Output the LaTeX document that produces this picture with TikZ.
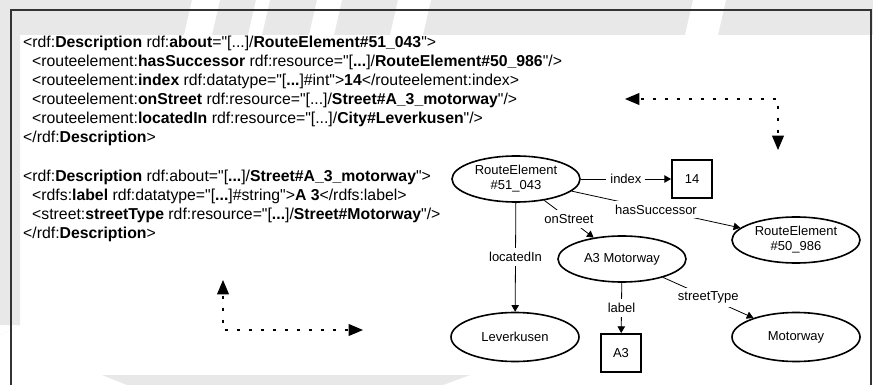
\documentclass[tikz,border=0pt]{standalone}
\usepackage{fontspec}
\setmainfont{Liberation Sans}
\usetikzlibrary{arrows,shapes.geometric}
\newcommand{\q}{\textquotedbl}

\begin{document}
\begin{tikzpicture}[x=1pt,y=-1pt,
        code/.style={anchor=base west,inner sep=0pt,font=\fontsize{15.8}{19}\selectfont},
        res/.style={draw=black,ellipse,line width=1.6pt,minimum width=128pt,minimum height=46pt,inner sep=0pt,align=center,font=\fontsize{13}{15}\selectfont},
        lit/.style={draw=black,rectangle,line width=2pt,minimum width=40pt,minimum height=38pt,inner sep=0pt,font=\fontsize{13}{15}\selectfont},
        prop/.style={line width=0.8pt,-triangle 60},
        lbl/.style={fill=white,inner sep=4pt,font=\fontsize{13}{15}\selectfont},
        hint/.style={line width=2.4pt,dash pattern=on 3pt off 9pt,triangle 45-triangle 45},
        frame/.style={draw=black!80,line width=1.4pt},
        wm/.style={fill=black!9}
      ]
      \useasboundingbox (0,0) rectangle (873,385);
      % Watermark in the background.
      \fill[wm] (0,0) rectangle (873,35);
      \fill[wm] (0,0) rectangle (20,325) -- (0,335) -- cycle;
      \fill[wm] (102,375) -- (470,375) -- (443,385) -- (127,385) -- cycle;
      \fill[white] (192,0) -- (220,0) -- (212,35) -- (184,35) -- cycle;
      \fill[white] (256,0) -- (270,0) -- (262,35) -- (248,35) -- cycle;
      \fill[white] (317,0) -- (342,0) -- (334,35) -- (309,35) -- cycle;
      \fill[white] (398,0) -- (431,0) -- (423,35) -- (390,35) -- cycle;
      \fill[white] (693,0) -- (726,0) -- (718,35) -- (685,35) -- cycle;
      \draw[frame] (11,385) |- (871,10) -- (871,385);
      % RDF/XML listing.
      \node[code] (l1) at (23,47.5) {<rdf:\textbf{Description} rdf:\textbf{about}=\q[...]/\textbf{RouteElement\#51\_043}\q>};
      \node[code] (l2) at (32,66.5) {<routeelement:\textbf{hasSuccessor} rdf:resource=\q[\textbf{...}]/\textbf{RouteElement\#50\_986}\q/>};
      \node[code] (l3) at (32,85.5) {<routeelement:\textbf{index} rdf:datatype=\q[\textbf{...}]\#int\q>\textbf{14}</routeelement:index>};
      \node[code] (l4) at (32,104.5) {<routeelement:\textbf{onStreet} rdf:resource=\q[...]/\textbf{Street\#A\_3\_motorway}\q/>};
      \node[code] (l5) at (32,123.5) {<routeelement:\textbf{locatedIn} rdf:resource=\q[...]/\textbf{City\#Leverkusen}\q/>};
      \node[code] (l6) at (23,142.5) {</rdf:\textbf{Description}>};
      \node[code] (m1) at (23,181.5) {<rdf:\textbf{Description} rdf:about=\q[\textbf{...}]/\textbf{Street\#A\_3\_motorway}\q>};
      \node[code] (m2) at (32,200.5) {<rdfs:\textbf{label} rdf:datatype=\q[\textbf{...}]\#string\q>\textbf{A 3}</rdfs:label>};
      \node[code] (m3) at (32,219.5) {<street:\textbf{streetType} rdf:resource=\q[\textbf{...}]/\textbf{Street\#Motorway}\q/>};
      \node[code] (m4) at (23,238.5) {</rdf:\textbf{Description}>};
      % Graph.
      \node[res] (re1) at (516,179) {RouteElement\\\#51\_043};
      \node[lit] (idx) at (692,179) {14};
      \node[res] (re2) at (796,240) {RouteElement\\\#50\_986};
      \node[res] (a3m) at (622,259) {A3 Motorway};
      \node[lit] (a3) at (621,353) {A3};
      \node[res,minimum height=49pt] (lev) at (515,337) {Leverkusen};
      \node[res,minimum height=49pt] (mot) at (796,337) {Motorway};
      % Connections.
      \draw[prop] (re1) -- node[lbl] {index} (idx);
      \draw[prop] (re1) -- node[lbl] {hasSuccessor} (re2);
      \draw[prop] (re1) -- node[lbl] {onStreet} (a3m);
      \draw[prop] (re1) -- node[lbl] {locatedIn} (lev);
      \draw[prop] (a3m) -- node[lbl] {label} (a3);
      \draw[prop] (a3m) -- node[lbl] {streetType} (mot);
      % Correspondence hints.
      \coordinate (tl) at (625,99);
      \coordinate (tc) at (778,99);
      \coordinate (tb) at (778,150);
      \coordinate (bt) at (223,280);
      \coordinate (bc) at (223,330);
      \coordinate (br) at (363,330);
      \draw[hint] (tl) -- (tc) -- (tb);
      \draw[hint] (bt) -- (bc) -- (br);
    \end{tikzpicture}
\end{document}
